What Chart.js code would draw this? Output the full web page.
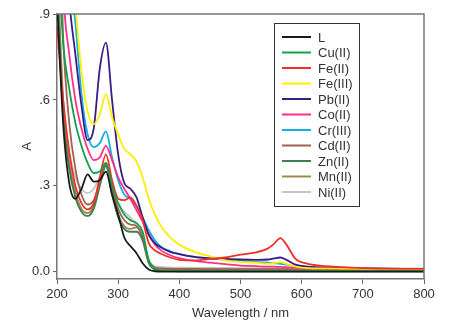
<!DOCTYPE html>
<html>
<head>
<meta charset="utf-8">
<script src="https://cdn.jsdelivr.net/npm/chart.js@4.4.0/dist/chart.umd.min.js"></script>
<style>
  body { margin: 0; background: #fff; }
  canvas { display: block; }
</style>
</head>
<body>
<canvas id="uvChart" width="472" height="331"></canvas>
<script>
// wavelength grid (nm)
const wavelength = [200, 210, 220, 230, 240, 250, 260, 270, 280, 290, 300, 310, 320, 330, 340, 350, 360, 370, 385, 400, 425, 450, 475, 500, 525, 545, 555, 565, 575, 590, 610, 640, 700, 800];

// absorbance per species
const absL  = [0.95, 0.52, 0.31, 0.255, 0.29, 0.34, 0.315, 0.32, 0.35, 0.27, 0.20, 0.12, 0.09, 0.065, 0.03, 0.008, 0.002, 0.001, 0.001, 0.001, 0.001, 0.001, 0.001, 0.001, 0.001, 0.001, 0.001, 0.001, 0.001, 0.001, 0.001, 0.001, 0.001, 0.001];
const absCu = [1.2, 0.8, 0.64, 0.52, 0.44, 0.38, 0.345, 0.35, 0.38, 0.30, 0.24, 0.20, 0.18, 0.17, 0.14, 0.04, 0.008, 0.004, 0.003, 0.002, 0.002, 0.002, 0.002, 0.002, 0.002, 0.002, 0.002, 0.002, 0.002, 0.002, 0.002, 0.002, 0.002, 0.002];
const absFe2 = [0.86, 0.6, 0.42, 0.30, 0.24, 0.218, 0.24, 0.33, 0.41, 0.32, 0.255, 0.25, 0.26, 0.23, 0.18, 0.10, 0.075, 0.063, 0.05, 0.042, 0.04, 0.045, 0.05, 0.06, 0.068, 0.082, 0.098, 0.118, 0.095, 0.045, 0.028, 0.02, 0.013, 0.01];
const absFe3 = [2.0, 1.5, 1.15, 0.93, 0.70, 0.56, 0.515, 0.55, 0.62, 0.54, 0.48, 0.43, 0.41, 0.385, 0.33, 0.255, 0.20, 0.16, 0.12, 0.095, 0.07, 0.055, 0.04, 0.035, 0.032, 0.028, 0.03, 0.034, 0.028, 0.018, 0.013, 0.012, 0.01, 0.009];
const absPb = [2.0, 1.3, 0.95, 0.76, 0.58, 0.46, 0.50, 0.71, 0.80, 0.60, 0.41, 0.31, 0.29, 0.26, 0.19, 0.13, 0.10, 0.085, 0.07, 0.062, 0.052, 0.047, 0.045, 0.043, 0.042, 0.043, 0.047, 0.05, 0.042, 0.025, 0.018, 0.015, 0.012, 0.01];
const absCo = [1.8, 1.0, 0.76, 0.60, 0.50, 0.43, 0.39, 0.40, 0.44, 0.39, 0.33, 0.29, 0.255, 0.215, 0.175, 0.13, 0.095, 0.075, 0.058, 0.048, 0.038, 0.032, 0.027, 0.022, 0.02, 0.018, 0.018, 0.017, 0.016, 0.014, 0.012, 0.011, 0.01, 0.009];
const absCr = [2.0, 1.4, 1.05, 0.87, 0.62, 0.48, 0.435, 0.45, 0.49, 0.40, 0.32, 0.27, 0.255, 0.23, 0.19, 0.145, 0.11, 0.088, 0.072, 0.062, 0.052, 0.046, 0.042, 0.038, 0.035, 0.032, 0.03, 0.028, 0.025, 0.02, 0.016, 0.014, 0.011, 0.01];
const absCd = [1.5, 0.82, 0.52, 0.36, 0.27, 0.235, 0.25, 0.31, 0.38, 0.29, 0.22, 0.18, 0.165, 0.16, 0.125, 0.04, 0.015, 0.012, 0.011, 0.01, 0.01, 0.009, 0.009, 0.009, 0.009, 0.009, 0.009, 0.009, 0.009, 0.008, 0.008, 0.008, 0.008, 0.008];
const absZn = [1.0, 0.55, 0.36, 0.26, 0.21, 0.195, 0.22, 0.30, 0.37, 0.27, 0.19, 0.15, 0.14, 0.14, 0.11, 0.03, 0.008, 0.005, 0.004, 0.004, 0.004, 0.004, 0.004, 0.004, 0.004, 0.004, 0.004, 0.004, 0.004, 0.004, 0.004, 0.004, 0.004, 0.004];
const absMn = [1.1, 0.6, 0.38, 0.28, 0.22, 0.205, 0.23, 0.31, 0.375, 0.28, 0.20, 0.16, 0.15, 0.155, 0.12, 0.035, 0.012, 0.01, 0.009, 0.009, 0.009, 0.009, 0.008, 0.008, 0.008, 0.008, 0.008, 0.008, 0.008, 0.008, 0.008, 0.008, 0.008, 0.008];
const absNi = [1.1, 0.6, 0.42, 0.33, 0.29, 0.275, 0.29, 0.33, 0.37, 0.30, 0.24, 0.21, 0.19, 0.16, 0.12, 0.04, 0.02, 0.017, 0.015, 0.015, 0.014, 0.014, 0.014, 0.013, 0.013, 0.013, 0.013, 0.013, 0.013, 0.013, 0.012, 0.012, 0.012, 0.012];

const seriesNames = ['L', 'Cu(II)', 'Fe(II)', 'Fe(III)', 'Pb(II)', 'Co(II)', 'Cr(III)', 'Cd(II)', 'Zn(II)', 'Mn(II)', 'Ni(II)'];
const seriesValues = [absL, absCu, absFe2, absFe3, absPb, absCo, absCr, absCd, absZn, absMn, absNi];
const seriesColors = ['#1a1a1a', '#13a04a', '#f2302a', '#ffee00', '#3b1c82', '#ff2f8e', '#0fb0e6', '#9c6352', '#3f7d4c', '#9a8a52', '#c4c4c4'];

const xTicks = [200, 300, 400, 500, 600, 700, 800];
const yTicks = [0, 0.3, 0.6, 0.9];
const yTickLabels = ['0.0', '.3', '.6', '.9'];

const datasets = seriesNames.map((name, k) => ({
  label: name,
  data: wavelength.map((w, i) => ({ x: w, y: seriesValues[k][i] })),
  borderColor: seriesColors[k],
  borderWidth: 1.8,
  pointRadius: 0,
  fill: false,
  cubicInterpolationMode: 'monotone'
}));

// box on top/right plus the legend inside the plot
const framePlugin = {
  id: 'frame',
  afterDatasetsDraw(chart) {
    const { ctx, chartArea: a } = chart;
    ctx.save();
    ctx.strokeStyle = '#777';
    ctx.lineWidth = 1.5;
    ctx.beginPath();
    ctx.moveTo(a.left, a.top);
    ctx.lineTo(a.right, a.top);
    ctx.lineTo(a.right, a.bottom);
    ctx.stroke();

    const bx = 274, by = 23, bw = 85, bh = 183;
    ctx.fillStyle = '#fff';
    ctx.fillRect(bx, by, bw, bh);
    ctx.strokeStyle = '#333';
    ctx.lineWidth = 1;
    ctx.strokeRect(bx + 0.5, by + 0.5, bw, bh);
    ctx.font = '13px "Liberation Sans", Arial, sans-serif';
    ctx.textBaseline = 'middle';
    ctx.fillStyle = '#333';
    seriesNames.forEach((name, k) => {
      const y = 37 + k * 15.5;
      ctx.strokeStyle = seriesColors[k];
      ctx.lineWidth = 2;
      ctx.beginPath();
      ctx.moveTo(282, y);
      ctx.lineTo(311, y);
      ctx.stroke();
      ctx.fillText(name, 318, y + 1);
    });
    ctx.restore();
  }
};

new Chart(document.getElementById('uvChart'), {
  type: 'line',
  data: { datasets: datasets },
  options: {
    responsive: false,
    animation: false,
    layout: { padding: { left: 0, top: 14, right: 48, bottom: 0 } },
    plugins: {
      legend: { display: false },
      tooltip: { enabled: false }
    },
    scales: {
      x: {
        type: 'linear',
        min: 200,
        max: 800,
        afterBuildTicks: (scale) => { scale.ticks = xTicks.map(v => ({ value: v })); },
        afterFit: (scale) => { scale.height = 52; },
        ticks: {
          color: '#333',
          font: { family: '"Liberation Sans", Arial, sans-serif', size: 13 },
          padding: 3,
          maxRotation: 0
        },
        grid: { display: true, drawOnChartArea: false, drawTicks: true, tickLength: 5, color: '#666' },
        border: { display: true, color: '#777', width: 1.5 },
        title: {
          display: true,
          text: 'Wavelength / nm',
          color: '#333',
          font: { family: '"Liberation Sans", Arial, sans-serif', size: 13 },
          padding: { top: 4, bottom: 10 }
        }
      },
      y: {
        min: -0.025,
        max: 0.9,
        afterBuildTicks: (scale) => { scale.ticks = yTicks.map(v => ({ value: v })); },
        afterFit: (scale) => { scale.width = 57; },
        ticks: {
          color: '#333',
          font: { family: '"Liberation Sans", Arial, sans-serif', size: 13 },
          padding: 3,
          callback: (v) => { const i = yTicks.indexOf(v); return i >= 0 ? yTickLabels[i] : ''; }
        },
        grid: { display: true, drawOnChartArea: false, drawTicks: true, tickLength: 4, color: '#666' },
        border: { display: true, color: '#777', width: 1.5 },
        title: {
          display: true,
          text: 'A',
          color: '#333',
          font: { family: '"Liberation Sans", Arial, sans-serif', size: 13 },
          padding: { top: 20, bottom: 0 }
        }
      }
    }
  },
  plugins: [framePlugin]
});
</script>
</body>
</html>
